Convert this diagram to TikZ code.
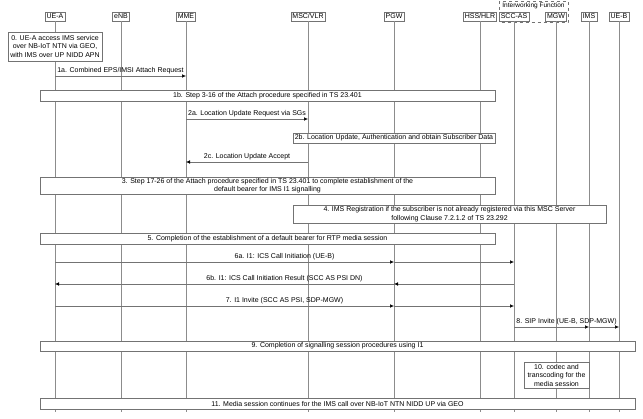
\documentclass[tikz,border=0pt]{standalone}
\usepackage{fontspec}
\setmainfont{Liberation Sans}
\usetikzlibrary{arrows.meta,positioning}

\tikzset{
  entity/.style={draw=black!55, fill=white, font=\fontsize{7}{8.5}\selectfont, inner sep=1.5pt, minimum height=9pt},
  lifeline/.style={draw=black!45, line width=0.6pt},
  stepbox/.style={draw=black!55, fill=white, font=\fontsize{7}{8.5}\selectfont, align=center, inner sep=1pt},
  msg/.style={draw=black!55, line width=0.5pt, -{Latex[length=4pt,width=3.5pt,color=black]}},
  msglabel/.style={font=\fontsize{7}{8.5}\selectfont, above, inner sep=1.5pt},
}

\begin{document}
\begin{tikzpicture}[x=1pt, y=-1pt]
    \useasboundingbox (0,0) rectangle (643,419);

    % interworking function group
    \draw[black!55, dashed] (499,1) rectangle (568,22.5);
    \node[font=\fontsize{6.5}{7}\selectfont, inner sep=0.5pt] (iwf) at (533.5,6) {Interworking Function};

    % entities
    \node[entity] (uea) at (55,16.5)  {UE-A};
    \node[entity] (enb) at (121,16.5) {eNB};
    \node[entity] (mme) at (186,16.5) {MME};
    \node[entity] (msc) at (308,16.5) {MSC/VLR};
    \node[entity] (pgw) at (394,16.5) {PGW};
    \node[entity] (hss) at (480,16.5) {HSS/HLR};
    \node[entity] (scc) at (514,16.5) {SCC-AS};
    \node[entity] (mgw) at (556,16.5) {MGW};
    \node[entity] (ims) at (589,16.5) {IMS};
    \node[entity] (ueb) at (619,16.5) {UE-B};

    % lifelines
    \coordinate (bottom) at (0,412);
    \foreach \e in {uea,enb,mme,msc,pgw,hss,scc,mgw,ims,ueb}
        \draw[lifeline] (\e) -- (\e |- bottom);

    % message rows
    \coordinate (m1a) at (0,76);
    \coordinate (m2a) at (0,119);
    \coordinate (m2c) at (0,162);
    \coordinate (m6a) at (0,262);
    \coordinate (m6b) at (0,284);
    \coordinate (m7)  at (0,306);
    \coordinate (m8)  at (0,327);

    \node[stepbox, minimum width=94pt, minimum height=29pt] (s0) at (55,46.5)
        {0. UE-A access IMS service\\over NB-IoT NTN via GEO,\\with IMS over UP NIDD APN};

    \draw[msg] (uea |- m1a) -- node[msglabel]{1a. Combined EPS/IMSI Attach Request} (mme |- m1a);

    \node[stepbox, minimum width=455pt, minimum height=11pt] (s1b) at (267.5,95.5)
        {1b. Step 3-16 of the Attach procedure specified in TS 23.401};

    \draw[msg] (mme |- m2a) -- node[msglabel]{2a. Location Update Request via SGs} (msc |- m2a);

    \node[stepbox, minimum width=202pt, minimum height=10pt] (s2b) at (394,138)
        {2b. Location Update, Authentication and obtain Subscriber Data};

    \draw[msg] (msc |- m2c) -- node[msglabel]{2c. Location Update Accept} (mme |- m2c);

    \node[stepbox, minimum width=455pt, minimum height=17pt] (s3) at (267.5,185.5)
        {3. Step 17-26 of the Attach procedure specified in TS 23.401 to complete establishment of the\\default bearer for IMS I1 signalling};

    \node[stepbox, minimum width=313pt, minimum height=18pt] (s4) at (449.5,214)
        {4. IMS Registration if the subscriber is not already registered via this MSC Server\\following Clause 7.2.1.2 of TS 23.292};

    \node[stepbox, minimum width=455pt, minimum height=11pt] (s5) at (267.5,238.5)
        {5. Completion of the establishment of a default bearer for RTP media session};

    % 6a
    \draw[msg] (uea |- m6a) -- (pgw |- m6a);
    \draw[msg] (pgw |- m6a) -- (scc |- m6a);
    \path (uea |- m6a) -- node[msglabel]{6a. I1: ICS Call Initiation (UE-B)} (scc |- m6a);

    % 6b
    \draw[msg] (scc |- m6b) -- (pgw |- m6b);
    \draw[msg] (pgw |- m6b) -- (uea |- m6b);
    \path (uea |- m6b) -- node[msglabel]{6b. I1: ICS Call Initiation Result (SCC AS PSI DN)} (scc |- m6b);

    % 7
    \draw[msg] (uea |- m7) -- (pgw |- m7);
    \draw[msg] (pgw |- m7) -- (scc |- m7);
    \path (uea |- m7) -- node[msglabel]{7. I1 Invite (SCC AS PSI, SDP-MGW)} (scc |- m7);

    % 8
    \draw[msg] (scc |- m8) -- (ims |- m8);
    \draw[msg] (ims |- m8) -- (ueb |- m8);
    \path (scc |- m8) -- node[msglabel]{8. SIP Invite (UE-B, SDP-MGW)} (ueb |- m8);

    \node[stepbox, minimum width=595pt, minimum height=10pt] (s9) at (337.5,346)
        {9. Completion of signalling session procedures using I1};

    \node[stepbox, minimum width=65pt, minimum height=26pt] (s10) at (556.5,375)
        {10. codec and\\transcoding for the\\media session};

    \node[stepbox, minimum width=595pt, minimum height=11pt] (s11) at (337.5,403.5)
        {11. Media session continues for the IMS call over NB-IoT NTN NIDD UP via GEO};
\end{tikzpicture}
\end{document}
